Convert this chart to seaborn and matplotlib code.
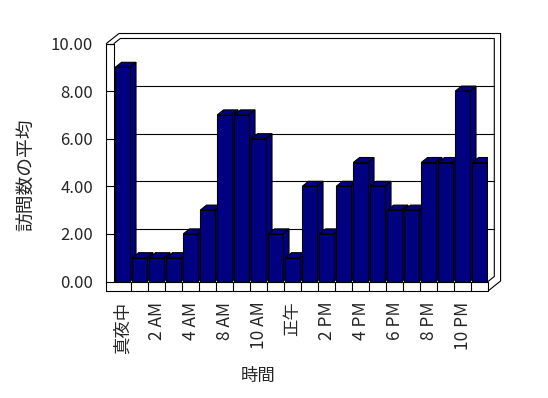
import matplotlib

matplotlib.use("Agg")
import matplotlib.pyplot as plt
import pandas as pd
import seaborn as sns
from matplotlib.patches import Polygon

hours = ["真夜中", "1 AM", "2 AM", "3 AM", "4 AM", "5 AM", "8 AM", "9 AM", "10 AM", "11 AM", "正午",
         "1 PM", "2 PM", "3 PM", "4 PM", "5 PM", "6 PM", "7 PM", "8 PM", "9 PM", "10 PM", "11 PM"]
visits = [9, 1, 1, 1, 2, 3, 7, 7, 6, 2, 1, 4, 2, 4, 5, 4, 3, 3, 5, 5, 8, 5]
y_ticks = [0, 2, 4, 6, 8, 10]

BAR = "#000080"
LW = 0.8

sns.set_style("white")
plt.rcParams["font.family"] = ["Noto Sans CJK JP", "DejaVu Sans"]

df = pd.DataFrame({"hour": hours, "visits": visits})
n = len(hours)

fig = plt.figure(figsize=(5.48, 3.98), dpi=100)
fig.patch.set_facecolor("white")
ax = fig.add_axes([114 / 548, 1 - 281.5 / 398, 374 / 548, 238 / 398])
ax.set_facecolor("none")

sns.barplot(data=df, x="hour", y="visits", order=hours, color=BAR, saturation=1,
            edgecolor="black", linewidth=LW, width=0.85, ax=ax)

ax.set_xlim(-0.5, n - 0.5)
ax.set_ylim(0, 10)
for s in ax.spines.values():
    s.set_visible(False)

# 3D-ish depth offsets (data units)
dx, dy = 0.37, 0.21
wall, floor = 0.45, 0.4
L, R, T = -0.5, n - 0.5, 10

# back wall / frame
ax.add_patch(Polygon([(L - wall, T), (L - wall + 2 * dx, T + 2 * dy), (R + 2 * dx, T + 2 * dy),
                      (R + 2 * dx, -floor + 2 * dy), (R, -floor), (L - wall, -floor)],
                     closed=True, facecolor="white", edgecolor="none", zorder=0, clip_on=False))
for v in y_ticks[1:-1]:
    ax.plot([L + dx, R + dx], [v + dy, v + dy], color="black", lw=LW, zorder=1, clip_on=False)
ax.plot([L - wall, L - wall + 2 * dx, R + 2 * dx, R + 2 * dx, R],
        [T, T + 2 * dy, T + 2 * dy, -floor + 2 * dy, -floor],
        color="black", lw=LW, zorder=1, clip_on=False)
ax.plot([L, L + dx, R + dx, R + dx, R], [T, T + dy, T + dy, dy, 0],
        color="black", lw=LW, zorder=1, clip_on=False)

# left wall + floor front faces
ax.add_patch(Polygon([(L - wall, T), (L - wall, -floor), (R, -floor), (R, 0), (L, 0), (L, T)],
                     closed=True, facecolor="white", edgecolor="black", lw=LW, zorder=60, clip_on=False))
for i in range(1, n):
    ax.plot([i - 0.5, i - 0.5], [0, -floor], color="black", lw=LW, zorder=61, clip_on=False)
for v in y_ticks:
    ax.plot([L - wall, L], [v, v], color="black", lw=LW, zorder=61, clip_on=False)

# bar tops and sides
bars = sorted(ax.patches[:n], key=lambda p: p.get_x())
for i, p in enumerate(bars):
    x0, w, h = p.get_x(), p.get_width(), p.get_height()
    z = 3 + 2 * i
    p.set_zorder(z + 1)
    ax.add_patch(Polygon([(x0 + w, 0), (x0 + w + dx, dy), (x0 + w + dx, h + dy), (x0 + w, h)],
                         closed=True, facecolor=BAR, edgecolor="black", lw=LW, zorder=z))
    ax.add_patch(Polygon([(x0, h), (x0 + w, h), (x0 + w + dx, h + dy), (x0 + dx, h + dy)],
                         closed=True, facecolor=BAR, edgecolor="black", lw=LW, zorder=z))

ax.set_yticks(y_ticks)
ax.set_yticklabels([f"{v:.2f}" for v in y_ticks], fontsize=12)
ax.set_xticks(range(0, n, 2))
ax.set_xticklabels(hours[::2], rotation=90, fontsize=12.5)
ax.tick_params(axis="y", length=0, pad=15)
ax.tick_params(axis="x", length=0, pad=14.5)
ax.set_xlabel("")
ax.set_ylabel("")

fig.text(27 / 548, 1 - 175 / 398, "訪問数の平均", rotation=90, ha="center", va="center", fontsize=13.5)
fig.text(258 / 548, 1 - 375.5 / 398, "時間", ha="center", va="center", fontsize=12.5)

fig.savefig("out.png", dpi=100)
plt.close(fig)
